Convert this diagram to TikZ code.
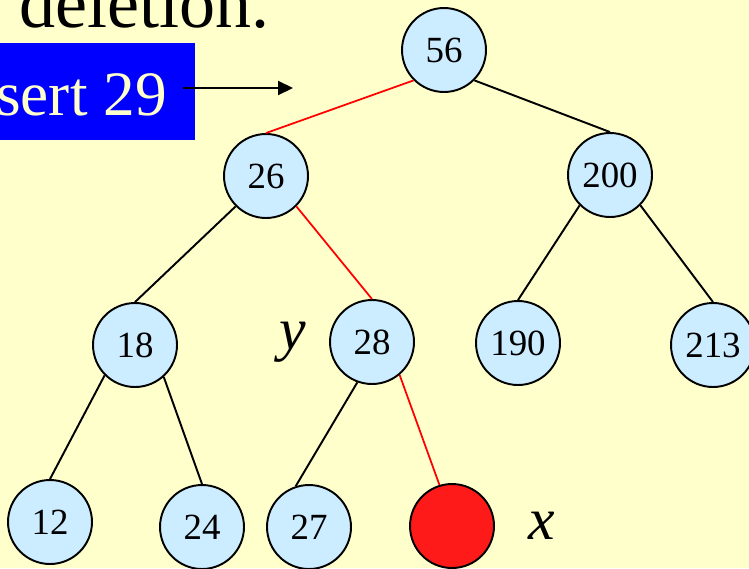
\documentclass[tikz,border=0pt]{standalone}
\usepackage{fontspec}
\setmainfont{Liberation Serif}
\usetikzlibrary{arrows.meta}
\definecolor{paper}{HTML}{FFFFCC}
\definecolor{keyblue}{HTML}{CCECFF}
\definecolor{newred}{HTML}{FF1A1A}
\begin{document}
\begin{tikzpicture}[x=0.02cm,y=-0.02cm,
        key/.style={draw,line width=1.1pt,circle,fill=keyblue,minimum size=1.68cm,inner sep=0pt,font=\fontsize{21}{21}\selectfont},
        blackedge/.style={line width=1.1pt},
        rededge/.style={line width=1pt,red}]
                        % Page
                        \fill[paper] (0,0) rectangle (749,568);
                        \clip (0,0) rectangle (749,568);
                        \node[anchor=base west,inner sep=0pt,font=\fontsize{41}{41}\selectfont] (title) at (19,27) {deletion.};
                        \fill[blue] (0,43) rectangle (195,140);
                        \node[anchor=base east,inner sep=0pt,text=paper,font=\fontsize{36}{36}\selectfont] (ins) at (167,115) {sert 29};
                        \coordinate (a0) at (183,88);
                        \coordinate (a1) at (293,88);
                        \draw[line width=1.2pt,-{Triangle[length=0.3cm,width=0.28cm]}] (a0) -- (a1);
                        % Tree
                        \node[key] (n56) at (444,50) {56};
                        \node[key] (n26) at (266,176) {26};
                        \node[key] (n200) at (610,175) {200};
                        \node[key] (n18) at (135,345) {18};
                        \node[key] (n28) at (372,342) {28};
                        \node[key] (n190) at (518,343) {190};
                        \node[key] (n213) at (713,345) {213};
                        \node[key] (n12) at (50,522) {12};
                        \node[key] (n24) at (202,527) {24};
                        \node[key] (n27) at (309,527) {27};
                        \node[key,fill=newred] (nx) at (452,526) {};
                        \node[font=\fontsize{34}{34}\selectfont\itshape] (ly) at (293,342) {y};
                        \node[font=\fontsize{34}{34}\selectfont\itshape] (lx) at (542,526) {x};
                        % Edges
                        \draw[rededge] (n56.225) -- (n26.north);
                        \draw[blackedge] (n56.-45) -- (n200.north);
                        \draw[blackedge] (n26.225) -- (n18.north);
                        \draw[rededge] (n26.-45) -- (n28.north);
                        \draw[blackedge] (n200.225) -- (n190.north);
                        \draw[blackedge] (n200.-45) -- (n213.north);
                        \draw[blackedge] (n18.225) -- (n12.north);
                        \draw[blackedge] (n18.-48) -- (n24.north);
                        \draw[blackedge] (n28.250) -- (n27.108);
                        \draw[rededge] (n28.-50) -- (nx.107);
        \end{tikzpicture}
\end{document}
